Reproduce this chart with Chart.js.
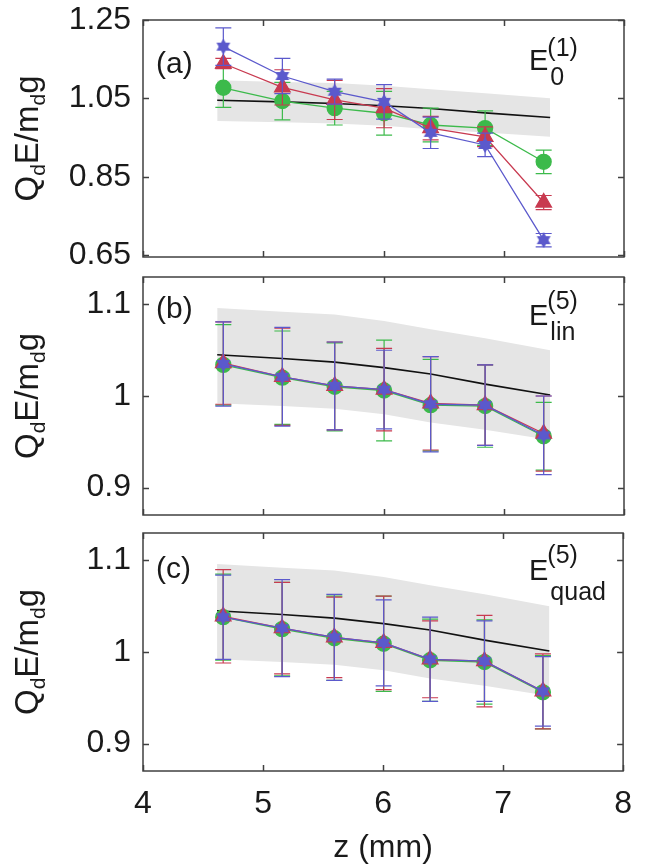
<!DOCTYPE html>
<html>
<head>
<meta charset="utf-8">
<script src="https://cdn.jsdelivr.net/npm/chart.js@4.4.0/dist/chart.umd.min.js"></script>
<style>
  html, body { margin: 0; padding: 0; background: #fff; }
  #wrap { position: relative; width: 646px; height: 867px; overflow: hidden; }
  canvas { position: absolute; left: 0; }
</style>
</head>
<body>
<div id="wrap">
  <canvas id="chartA" width="646" height="301" style="top:-12px"></canvas>
  <canvas id="chartB" width="646" height="302" style="top:245px"></canvas>
  <canvas id="chartC" width="646" height="366" style="top:501px"></canvas>
</div>
<script>
// z positions of the measurements and of the theory curve
var zPos = [4.668, 5.159, 5.594, 6.005, 6.392, 6.845, 7.332];
var zTheory = [4.617, 5.159, 5.594, 6.005, 6.392, 6.845, 7.386];
var zTicks = [4, 5, 6, 7, 8];

// theory curve + shaded band (same in all panels)
var theoryMean = [1.045, 1.041, 1.037, 1.031, 1.024, 1.013, 1.001];
var theoryUpper = [1.096, 1.092, 1.089, 1.082, 1.073, 1.063, 1.050];
var theoryLower = [0.992, 0.989, 0.986, 0.980, 0.971, 0.963, 0.952];

// panel (a)
var aGreen = [1.077, 1.043, 1.025, 1.012, 0.982, 0.974, 0.888];
var aGreenErr = [0.050, 0.048, 0.043, 0.056, 0.043, 0.044, 0.030];
var aRed = [1.139, 1.078, 1.046, 1.025, 0.974, 0.952, 0.784];
var aRedErr = [0.013, 0.045, 0.050, 0.050, 0.030, 0.025, 0.018];
var aBlue = [1.182, 1.107, 1.067, 1.041, 0.962, 0.931, 0.688];
var aBlueErr = [0.048, 0.045, 0.032, 0.044, 0.040, 0.030, 0.017];
var aTicks = [0.65, 0.85, 1.05, 1.25];

// panel (b)
var bGreen = [1.034, 1.020, 1.010, 1.006, 0.990, 0.989, 0.956];
var bGreenErr = [0.044, 0.051, 0.048, 0.055, 0.050, 0.045, 0.037];
var bRed = [1.036, 1.021, 1.011, 1.007, 0.992, 0.990, 0.959];
var bRedErr = [0.045, 0.053, 0.048, 0.045, 0.051, 0.044, 0.041];
var bBlue = [1.035, 1.021, 1.011, 1.007, 0.991, 0.990, 0.957];
var bBlueErr = [0.046, 0.054, 0.048, 0.043, 0.052, 0.044, 0.043];

// panel (c)
var cGreen = [1.038, 1.025, 1.015, 1.009, 0.991, 0.989, 0.956];
var cGreenErr = [0.047, 0.051, 0.046, 0.052, 0.045, 0.046, 0.040];
var cRed = [1.039, 1.026, 1.016, 1.010, 0.992, 0.990, 0.957];
var cRedErr = [0.051, 0.050, 0.044, 0.051, 0.042, 0.050, 0.041];
var cBlue = [1.038, 1.026, 1.016, 1.010, 0.992, 0.990, 0.957];
var cBlueErr = [0.046, 0.053, 0.047, 0.047, 0.046, 0.044, 0.038];
var bcTicks = [0.9, 1, 1.1];

var GREEN = '#3cba4b', RED = '#c83a50', BLUE = '#5b59cc';
var FONT = "'Liberation Sans', Arial, sans-serif";

function pts(xs, ys) {
  return ys.map(function(v, i) { return {x: xs[i], y: v}; });
}

function makeHexagram(size, color) {
  var c = document.createElement('canvas');
  c.width = size; c.height = size;
  var g = c.getContext('2d');
  var r = size / 2;
  g.fillStyle = color;
  for (var k = 0; k < 2; k++) {
    g.beginPath();
    for (var i = 0; i < 3; i++) {
      var ang = -Math.PI / 2 + k * Math.PI + i * 2 * Math.PI / 3;
      var px = r + r * Math.cos(ang), py = r + r * Math.sin(ang);
      if (i === 0) g.moveTo(px, py); else g.lineTo(px, py);
    }
    g.closePath();
    g.fill();
  }
  return c;
}
var starImg = makeHexagram(16, BLUE);

// error bars drawn just before each series, like matlab errorbar
var errorBars = {
  id: 'errorBars',
  beforeDatasetDraw: function(chart, args) {
    var ds = chart.data.datasets[args.index];
    if (!ds.errors) return;
    var ctx = chart.ctx, xs = chart.scales.x, ys = chart.scales.y;
    ctx.save();
    ctx.strokeStyle = ds.borderColor;
    ctx.lineWidth = 1.2;
    ctx.beginPath();
    ds.data.forEach(function(p, i) {
      var e = ds.errors[i];
      var px = xs.getPixelForValue(p.x);
      var top = ys.getPixelForValue(p.y + e), bot = ys.getPixelForValue(p.y - e);
      ctx.moveTo(px, top); ctx.lineTo(px, bot);
      ctx.moveTo(px - 8, top); ctx.lineTo(px + 8, top);
      ctx.moveTo(px - 8, bot); ctx.lineTo(px + 8, bot);
    });
    ctx.stroke();
    ctx.restore();
  }
};

function drawRuns(ctx, runs, x, baseline) {
  runs.forEach(function(r) {
    ctx.font = r[1] + 'px ' + FONT;
    ctx.fillText(r[0], x, baseline + r[2]);
    x += ctx.measureText(r[0]).width;
  });
  return x;
}

// box with inward ticks, panel tag, E label and y title
var frame = {
  id: 'frame',
  afterDraw: function(chart, args, o) {
    var a = chart.chartArea, ctx = chart.ctx;
    var xs = chart.scales.x, ys = chart.scales.y;
    ctx.save();
    ctx.strokeStyle = '#404040';
    ctx.lineWidth = 1.5;
    ctx.strokeRect(a.left, a.top, a.right - a.left, a.bottom - a.top);
    ctx.beginPath();
    zTicks.forEach(function(v) {
      var px = Math.round(xs.getPixelForValue(v)) + 0.5;
      ctx.moveTo(px, a.top); ctx.lineTo(px, a.top + 6);
      ctx.moveTo(px, a.bottom); ctx.lineTo(px, a.bottom - 6);
    });
    o.yTicks.forEach(function(v) {
      var py = Math.round(ys.getPixelForValue(v)) + 0.5;
      ctx.moveTo(a.left, py); ctx.lineTo(a.left + 6, py);
      ctx.moveTo(a.right, py); ctx.lineTo(a.right - 6, py);
    });
    ctx.stroke();

    ctx.fillStyle = '#1a1a1a';
    ctx.textBaseline = 'alphabetic';
    ctx.textAlign = 'left';
    ctx.font = '30px ' + FONT;
    ctx.fillText(o.tag, 156, a.top + o.tagY);

    // E label with super/subscript
    ctx.font = '29px ' + FONT;
    var ex = 529, eb = a.top + o.eY;
    ctx.fillText('E', ex, eb);
    var w = ctx.measureText('E').width;
    ctx.font = '25px ' + FONT;
    ctx.fillText(o.sup, ex + w - 1, eb + o.supY);
    ctx.fillText(o.sub, ex + w + 2, eb + o.subY);

    // y title: Q_d E/m_d g, rotated
    var cy = (a.top + a.bottom) / 2;
    ctx.translate(38, cy);
    ctx.rotate(-Math.PI / 2);
    var runs = [['Q', 33, 0], ['d', 21, 7], ['E/m', 33, 0], ['d', 21, 7], ['g', 33, 0]];
    var total = 0;
    runs.forEach(function(r) { ctx.font = r[1] + 'px ' + FONT; total += ctx.measureText(r[0]).width; });
    drawRuns(ctx, runs, -total / 2, 0);
    ctx.restore();
  }
};

function panel(id, green, greenErr, red, redErr, blue, blueErr, yMin, yMax, yTicks, pad, text, showX) {
  return new Chart(document.getElementById(id), {
    type: 'scatter',
    data: {
      datasets: [
        { data: pts(zPos, blue), errors: blueErr, showLine: true, borderColor: BLUE, borderWidth: 1.3,
          pointStyle: starImg, pointRadius: 8, order: 0 },
        { data: pts(zPos, red), errors: redErr, showLine: true, borderColor: RED, backgroundColor: RED, borderWidth: 1.3,
          pointStyle: 'triangle', pointRadius: 9, order: 1 },
        { data: pts(zPos, green), errors: greenErr, showLine: true, borderColor: GREEN, backgroundColor: GREEN, borderWidth: 1.3,
          pointStyle: 'circle', pointRadius: 7.5, order: 2 },
        { data: pts(zTheory, theoryMean), showLine: true, borderColor: '#111', borderWidth: 1.6,
          pointRadius: 0, order: 3 },
        { data: pts(zTheory, theoryUpper), showLine: true, borderWidth: 0, borderColor: 'rgba(0,0,0,0)',
          backgroundColor: '#e5e5e5', fill: '+1', pointRadius: 0, order: 4 },
        { data: pts(zTheory, theoryLower), showLine: true, borderWidth: 0, borderColor: 'rgba(0,0,0,0)',
          pointRadius: 0, fill: false, order: 5 }
      ]
    },
    options: {
      responsive: false,
      animation: false,
      events: [],
      layout: { padding: pad },
      plugins: {
        legend: { display: false },
        tooltip: { enabled: false },
        frame: text
      },
      scales: {
        x: {
          type: 'linear', min: 4, max: 8,
          display: showX,
          afterBuildTicks: function(s) { s.ticks = zTicks.map(function(v) { return {value: v}; }); },
          afterFit: function(s) { if (showX) s.height = 96; },
          grid: { display: false, drawTicks: false },
          border: { display: false },
          ticks: { font: { size: 32, family: FONT }, color: '#1a1a1a', padding: 14 },
          title: { display: showX, text: 'z (mm)', font: { size: 32, family: FONT }, color: '#1a1a1a',
                   padding: { top: 0, bottom: 0 } }
        },
        y: {
          min: yMin, max: yMax,
          afterBuildTicks: function(s) { s.ticks = yTicks.map(function(v) { return {value: v}; }); },
          afterFit: function(s) { s.width = 143; },
          grid: { display: false, drawTicks: false },
          border: { display: false },
          ticks: { font: { size: 32, family: FONT }, color: '#1a1a1a', padding: 12,
                   callback: function(v) { return String(v); } }
        }
      }
    },
    plugins: [errorBars, frame]
  });
}

panel('chartA', aGreen, aGreenErr, aRed, aRedErr, aBlue, aBlueErr, 0.645, 1.25, aTicks,
  { top: 32, bottom: 32, right: 22, left: 0 },
  { yTicks: aTicks, tag: '(a)', tagY: 53, eY: 50, sup: '(1)', supY: -14, sub: '0', subY: 15 }, false);
panel('chartB', bGreen, bGreenErr, bRed, bRedErr, bBlue, bBlueErr, 0.87, 1.13, bcTicks,
  { top: 32, bottom: 32, right: 22, left: 0 },
  { yTicks: bcTicks, tag: '(b)', tagY: 41, eY: 48, sup: '(5)', supY: -16, sub: 'lin', subY: 15 }, false);
panel('chartC', cGreen, cGreenErr, cRed, cRedErr, cBlue, cBlueErr, 0.87, 1.13, bcTicks,
  { top: 32, bottom: 0, right: 22, left: 0 },
  { yTicks: bcTicks, tag: '(c)', tagY: 45, eY: 47, sup: '(5)', supY: -17, sub: 'quad', subY: 20 }, true);
</script>
</body>
</html>
